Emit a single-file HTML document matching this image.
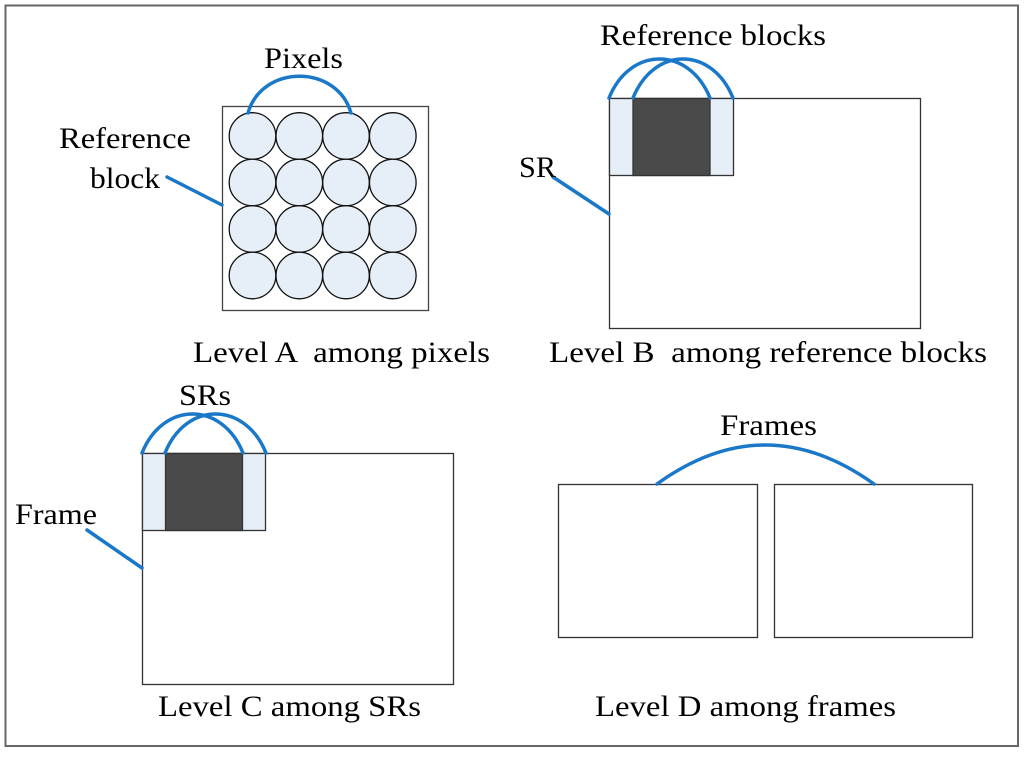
<!DOCTYPE html>
<html><head><style>html,body{margin:0;padding:0;background:#fff}</style></head><body>
<svg width="1024" height="752" xmlns="http://www.w3.org/2000/svg" font-family="Liberation Serif, serif" font-size="30" fill="#000">
<rect x="5.5" y="5.5" width="1012.5" height="740.5" fill="none" stroke="#666" stroke-width="2"/>
<!-- Level A -->
<rect x="222.5" y="106.5" width="206" height="204" fill="#fff" stroke="#444" stroke-width="1.3"/>
<g fill="#e6eef8" stroke="#111" stroke-width="1.3">
<circle cx="252.5" cy="136" r="23.3"/><circle cx="299.3" cy="136" r="23.3"/><circle cx="346" cy="136" r="23.3"/><circle cx="392.8" cy="136" r="23.3"/>
<circle cx="252.5" cy="182.5" r="23.3"/><circle cx="299.3" cy="182.5" r="23.3"/><circle cx="346" cy="182.5" r="23.3"/><circle cx="392.8" cy="182.5" r="23.3"/>
<circle cx="252.5" cy="229" r="23.3"/><circle cx="299.3" cy="229" r="23.3"/><circle cx="346" cy="229" r="23.3"/><circle cx="392.8" cy="229" r="23.3"/>
<circle cx="252.5" cy="275.5" r="23.3"/><circle cx="299.3" cy="275.5" r="23.3"/><circle cx="346" cy="275.5" r="23.3"/><circle cx="392.8" cy="275.5" r="23.3"/>
</g>
<!-- Level B -->
<rect x="609.5" y="98.5" width="311" height="230" fill="#fff" stroke="#333" stroke-width="1.3"/>
<rect x="609.5" y="98.5" width="124" height="77" fill="#e6eef8" stroke="#333" stroke-width="1.3"/>
<rect x="633" y="98.5" width="77" height="77" fill="#4a4a4a" stroke="#333" stroke-width="1.3"/>
<!-- Level C -->
<rect x="142.5" y="453.5" width="311" height="231" fill="#fff" stroke="#333" stroke-width="1.3"/>
<rect x="142.5" y="453.5" width="123" height="77" fill="#e6eef8" stroke="#333" stroke-width="1.3"/>
<rect x="165.5" y="453.5" width="77" height="77" fill="#4a4a4a" stroke="#333" stroke-width="1.3"/>
<!-- Level D -->
<rect x="558.5" y="484.5" width="199" height="153" fill="#fff" stroke="#333" stroke-width="1.3"/>
<rect x="774.5" y="484.5" width="198" height="153" fill="#fff" stroke="#333" stroke-width="1.3"/>
<!-- blue lines -->
<g fill="none" stroke="#1a78c8" stroke-width="3.5" stroke-linecap="round">
<path d="M248 113 C262 64 337 64 351 113"/>
<path d="M609 98 C630 46 689 46 710 98"/>
<path d="M633 98 C654 46 712 46 733 98"/>
<path d="M142 453 C163 401 222 401 243 453"/>
<path d="M165 453 C186 401 245 401 266 453"/>
<path d="M657 484 Q765 406 874 484"/>
<path d="M167 177 L222 205"/>
<path d="M553 177 L609 214"/>
<path d="M87 530 L142 568"/>
</g>
<!-- text -->
<text x="264" y="68" textLength="79" lengthAdjust="spacingAndGlyphs">Pixels</text>
<text x="600" y="45" textLength="226" lengthAdjust="spacingAndGlyphs">Reference blocks</text>
<text x="59" y="148" textLength="132" lengthAdjust="spacingAndGlyphs">Reference</text>
<text x="90" y="188" textLength="70" lengthAdjust="spacingAndGlyphs">block</text>
<text x="519" y="177" textLength="37" lengthAdjust="spacingAndGlyphs">SR</text>
<text x="193" y="362" textLength="297" lengthAdjust="spacingAndGlyphs" xml:space="preserve">Level A  among pixels</text>
<text x="549" y="362" textLength="438" lengthAdjust="spacingAndGlyphs" xml:space="preserve">Level B  among reference blocks</text>
<text x="179" y="405" textLength="52" lengthAdjust="spacingAndGlyphs">SRs</text>
<text x="15" y="524" textLength="82" lengthAdjust="spacingAndGlyphs">Frame</text>
<text x="720" y="435" textLength="97" lengthAdjust="spacingAndGlyphs">Frames</text>
<text x="158" y="716" textLength="263" lengthAdjust="spacingAndGlyphs">Level C among SRs</text>
<text x="595" y="716" textLength="301" lengthAdjust="spacingAndGlyphs">Level D among frames</text>
</svg>
</body></html>
